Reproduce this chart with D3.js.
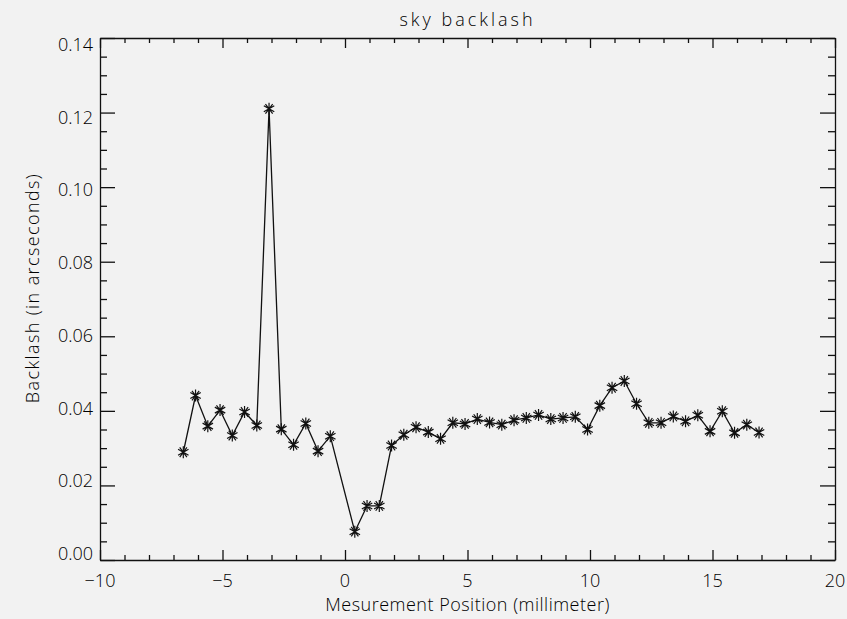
<!DOCTYPE html>
<html>
<head>
<meta charset="utf-8">
<script src="https://cdn.jsdelivr.net/npm/d3@7"></script>
<style>
  html, body { margin: 0; padding: 0; background: #f2f2f2; }
  svg { display: block; font-family: "Open Sans", "DejaVu Sans", sans-serif; font-weight: 300; }
</style>
</head>
<body>
<svg width="847" height="619"></svg>
<script>
const positions = [
  -6.6, -6.1, -5.6, -5.1, -4.6, -4.1, -3.6, -3.1, -2.6, -2.1, -1.6, -1.1, -0.6,
  0.4, 0.9, 1.4, 1.9, 2.4, 2.9, 3.4, 3.9, 4.4, 4.9, 5.4, 5.9, 6.4, 6.9, 7.4,
  7.9, 8.4, 8.9, 9.4, 9.9, 10.4, 10.9, 11.4, 11.9, 12.4, 12.9, 13.4, 13.9,
  14.4, 14.9, 15.4, 15.9, 16.4, 16.9
];
const backlash = [
  0.0289, 0.0441, 0.0359, 0.0402, 0.0334, 0.0397, 0.0361, 0.1210, 0.0351, 0.0309,
  0.0366, 0.0292, 0.0332, 0.0076, 0.0145, 0.0145, 0.0307, 0.0336, 0.0356, 0.0343,
  0.0325, 0.0368, 0.0365, 0.0378, 0.0369, 0.0363, 0.0375, 0.0381, 0.0389, 0.0378,
  0.0381, 0.0384, 0.0350, 0.0414, 0.0462, 0.0480, 0.0419, 0.0368, 0.0368, 0.0385,
  0.0372, 0.0388, 0.0345, 0.0399, 0.0341, 0.0363, 0.0342
];
const xTicks = [-10, -5, 0, 5, 10, 15, 20];
const yTicks = [0, 0.02, 0.04, 0.06, 0.08, 0.10, 0.12, 0.14];

const title = 'sky backlash';
const xTitle = 'Mesurement Position (millimeter)';
const yTitle = 'Backlash (in arcseconds)';

const data = positions.map((x, i) => ({ x, y: backlash[i] }));

// 1. Dimensions.
const plot = { left: 100, right: 835, top: 38, bottom: 560 };
const ink = '#111';
const textInk = '#000';

// 2. Scales.
const xScale = d3.scaleLinear().domain([-10, 20]).range([plot.left, plot.right]);
const yScale = d3.scaleLinear().domain([0, 0.14]).range([plot.bottom, plot.top]);
// y tick labels sit slightly inside the frame, like the original plot
const yLabelScale = d3.scaleLinear().domain([0, 0.14]).range([plot.bottom, plot.top + 13]);

const svg = d3.select('svg');

// 3. Axes: major + minor ticks on all four sides.
const xMinor = d3.range(-10, 20.001, 1).filter(v => v % 5 !== 0);
const yMinor = d3.range(0, 0.1401, 0.005).filter(v => Math.round(v * 1000) % 20 !== 0);

function frameAxis(axis, scale, major, minor, majorLen, minorLen, pos) {
  const g = svg.append('g').attr('transform', pos);
  g.call(axis(scale).tickValues(minor).tickSize(minorLen).tickFormat(''));
  g.select('.domain').remove();
  const g2 = svg.append('g').attr('transform', pos);
  g2.call(axis(scale).tickValues(major).tickSize(majorLen).tickSizeOuter(0).tickFormat(''));
  svg.selectAll('.domain, .tick line').attr('stroke', ink).attr('stroke-width', 1.3);
}

frameAxis(d3.axisTop, xScale, xTicks, xMinor, 10, 5, `translate(0,${plot.bottom})`);
frameAxis(d3.axisBottom, xScale, xTicks, xMinor, 10, 5, `translate(0,${plot.top})`);
frameAxis(d3.axisRight, yScale, yTicks, yMinor, 15, 7, `translate(${plot.left},0)`);
frameAxis(d3.axisLeft, yScale, yTicks, yMinor, 15, 7, `translate(${plot.right},0)`);

// Tick labels.
svg.append('g')
  .selectAll('text')
  .data(xTicks)
  .enter()
  .append('text')
  .attr('x', d => xScale(d))
  .attr('y', plot.bottom + 27)
  .attr('text-anchor', 'middle')
  .attr('font-size', 18)
  .attr('fill', textInk)
  .text(d => d < 0 ? '\u2212' + Math.abs(d) : d);

svg.append('g')
  .selectAll('text')
  .data(yTicks)
  .enter()
  .append('text')
  .attr('x', plot.left - 7)
  .attr('y', d => yLabelScale(d))
  .attr('text-anchor', 'end')
  .attr('font-size', 18)
  .attr('fill', textInk)
  .text(d => d3.format('.2f')(d));

// Titles.
svg.append('text')
  .attr('x', (plot.left + plot.right) / 2)
  .attr('y', 26)
  .attr('text-anchor', 'middle')
  .attr('font-size', 18)
  .attr('letter-spacing', 3)
  .attr('fill', textInk)
  .text(title);

svg.append('text')
  .attr('x', (plot.left + plot.right) / 2)
  .attr('y', 611)
  .attr('text-anchor', 'middle')
  .attr('font-size', 18)
  .attr('letter-spacing', 0.5)
  .attr('fill', textInk)
  .text(xTitle);

svg.append('text')
  .attr('transform', `translate(39,${(plot.top + plot.bottom) / 2 - 11}) rotate(-90)`)
  .attr('text-anchor', 'middle')
  .attr('font-size', 18)
  .attr('letter-spacing', 1.4)
  .attr('fill', textInk)
  .text(yTitle);

// 4. Line.
const line = d3.line().x(d => xScale(d.x)).y(d => yScale(d.y));
svg.append('path')
  .datum(data)
  .attr('d', line)
  .attr('fill', 'none')
  .attr('stroke', ink)
  .attr('stroke-width', 1.3);

// 5. Asterisk markers.
const r = 6;
const star = `M0,${-r}L0,${r}` +
  `M${-r * 0.87},${-r * 0.5}L${r * 0.87},${r * 0.5}` +
  `M${-r * 0.87},${r * 0.5}L${r * 0.87},${-r * 0.5}` +
  `M${-r * 0.6},${-r * 0.8}L${r * 0.6},${r * 0.8}` +
  `M${-r * 0.6},${r * 0.8}L${r * 0.6},${-r * 0.8}`;
svg.append('g')
  .selectAll('path')
  .data(data)
  .enter()
  .append('path')
  .attr('transform', d => `translate(${xScale(d.x)},${yScale(d.y)})`)
  .attr('d', star)
  .attr('stroke', ink)
  .attr('stroke-width', 1.2)
  .attr('fill', 'none');
</script>
</body>
</html>
